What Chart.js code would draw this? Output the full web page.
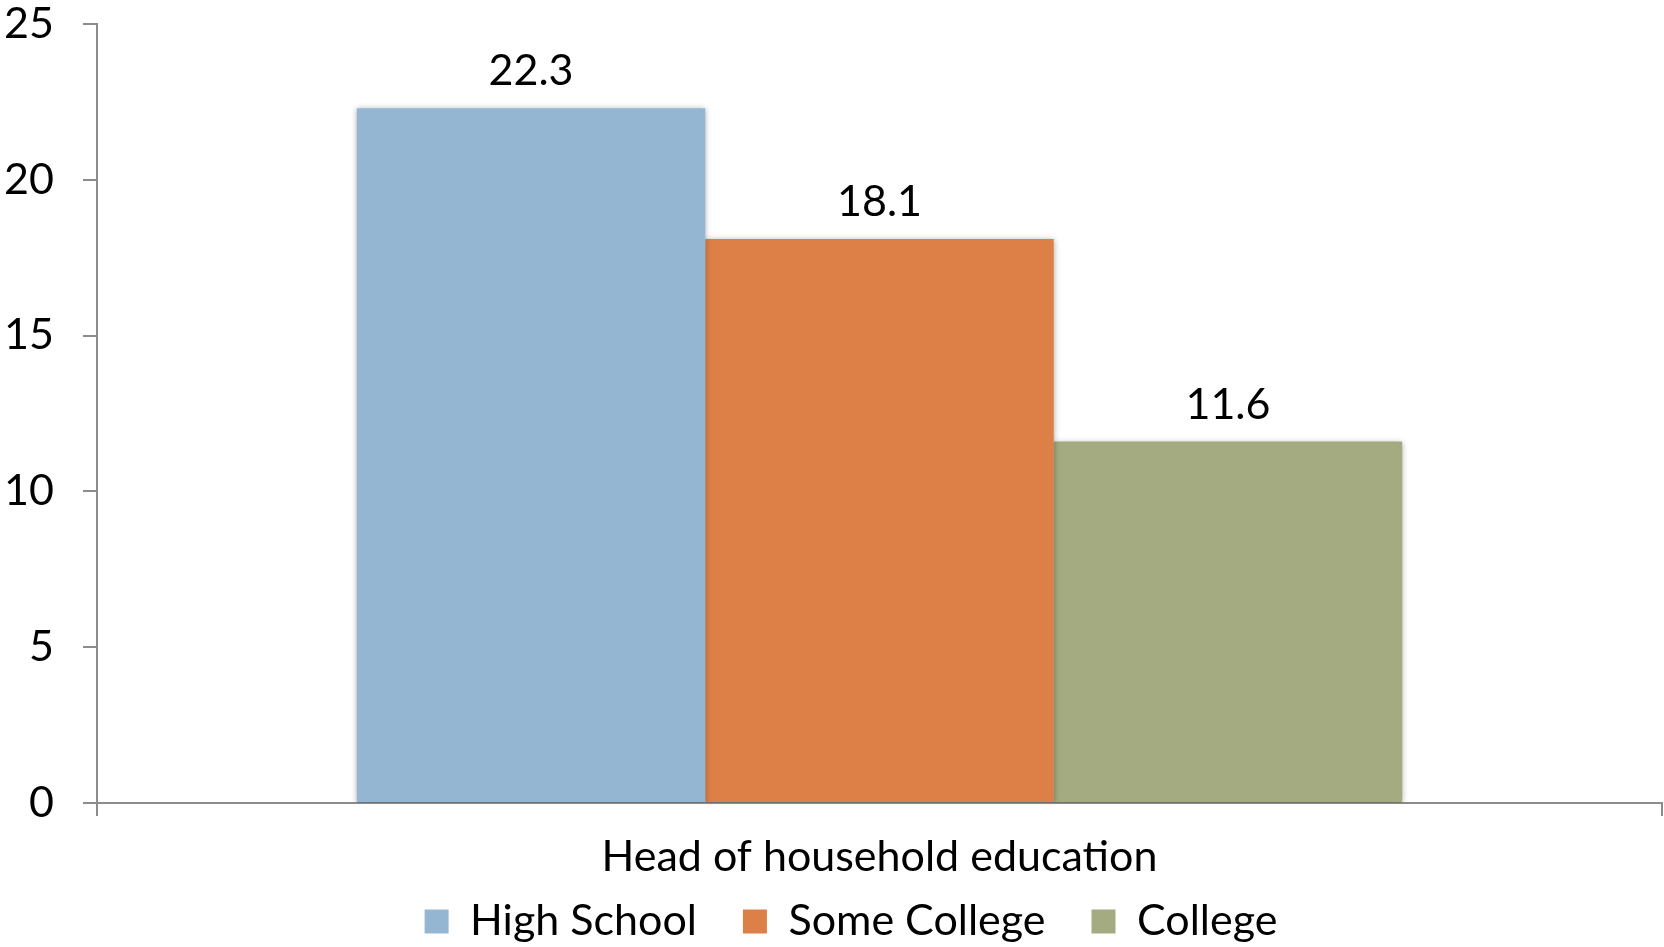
<!DOCTYPE html>
<html>
<head>
<meta charset="utf-8">
<script src="https://cdn.jsdelivr.net/npm/chart.js@4.4.1/dist/chart.umd.min.js"></script>
<style>
  html, body { margin: 0; padding: 0; background: #ffffff; }
  #wrap { width: 1664px; height: 947px; }
</style>
</head>
<body>
<div id="wrap"><canvas id="chart" width="1664" height="947"></canvas></div>
<script>
// Share of households, by education level of the household head
const categories = ['Head of household education'];
const seriesNames = ['High School', 'Some College', 'College'];
const highSchool = [22.3];
const someCollege = [18.1];
const college = [11.6];
const yTicks = [0, 5, 10, 15, 20, 25];

const colors = ['#94B6D2', '#DD8047', '#A5AB81'];
const axisGray = '#8C8C8C';
const FONT = 'Lato, "Open Sans", sans-serif';
const FS = 43;

// soft shadow behind the bars
const barShadow = {
  id: 'barShadow',
  beforeDatasetsDraw(chart) {
    const ctx = chart.ctx;
    ctx.save();
    ctx.shadowColor = 'rgba(0,0,0,0.35)';
    ctx.shadowBlur = 6;
    ctx.shadowOffsetX = 0;
    ctx.shadowOffsetY = 1;
  },
  afterDatasetsDraw(chart) {
    chart.ctx.restore();
  }
};

// value printed above each bar
const valueLabels = {
  id: 'valueLabels',
  afterDatasetsDraw(chart) {
    const ctx = chart.ctx;
    ctx.save();
    ctx.font = FS + 'px ' + FONT;
    ctx.fillStyle = '#000000';
    ctx.textAlign = 'center';
    ctx.textBaseline = 'alphabetic';
    chart.data.datasets.forEach((ds, i) => {
      const meta = chart.getDatasetMeta(i);
      meta.data.forEach((bar, j) => {
        ctx.fillText(ds.data[j].toFixed(1), bar.x, bar.y - 23);
      });
    });
    ctx.restore();
  }
};

// pull the legend row up under the axis caption
const legendPlacement = {
  id: 'legendPlacement',
  afterLayout(chart) {
    const lg = chart.legend;
    if (!lg) return;
    const dx = 20, dy = -44;
    lg.left += dx; lg.right += dx;
    lg.top += dy; lg.bottom += dy;
  }
};

const seriesData = [highSchool, someCollege, college];

new Chart(document.getElementById('chart'), {
  type: 'bar',
  data: {
    labels: categories,
    datasets: seriesNames.map((name, i) => ({
      label: name,
      data: seriesData[i],
      backgroundColor: colors[i],
      borderWidth: 0,
      barPercentage: 1.0,
      categoryPercentage: 0.668
    }))
  },
  options: {
    responsive: false,
    animation: false,
    events: [],
    layout: { padding: { left: 0, right: 2, top: 0, bottom: -50 } },
    plugins: {
      legend: {
        position: 'bottom',
        labels: {
          font: { family: FONT, size: FS },
          color: '#000000',
          boxWidth: 24,
          boxHeight: 24,
          padding: 46
        }
      },
      tooltip: { enabled: false }
    },
    scales: {
      x: {
        afterFit(axis) { axis.height = 95; },
        grid: {
          offset: true,
          drawOnChartArea: false,
          drawTicks: true,
          tickLength: 13,
          color: axisGray,
          lineWidth: 2
        },
        border: { display: true, color: axisGray, width: 2 },
        ticks: {
          font: { family: FONT, size: FS },
          color: '#000000',
          padding: 15
        }
      },
      y: {
        min: 0,
        max: 25,
        afterBuildTicks(axis) {
          axis.ticks = yTicks.map(v => ({ value: v }));
        },
        afterFit(axis) {
          axis.width = 97;
          axis.paddingTop = 24;
          axis.paddingBottom = 0;
        },
        grid: {
          drawOnChartArea: false,
          drawTicks: true,
          tickLength: 14,
          color: axisGray,
          lineWidth: 2
        },
        border: { display: true, color: axisGray, width: 2 },
        ticks: {
          font: { family: FONT, size: FS },
          color: '#000000',
          padding: 29
        }
      }
    }
  },
  plugins: [barShadow, valueLabels, legendPlacement]
});
</script>
</body>
</html>
